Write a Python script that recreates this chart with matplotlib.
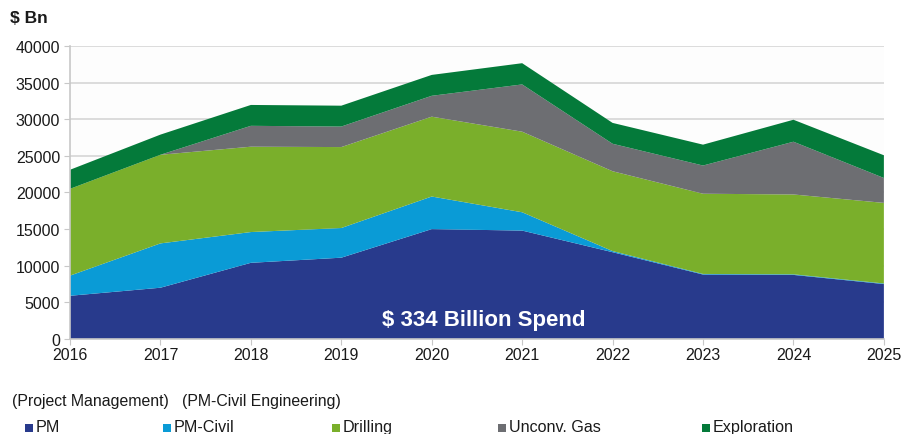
import matplotlib
matplotlib.use("Agg")
import matplotlib.pyplot as plt
from matplotlib.patches import Rectangle

plt.rcParams["font.family"] = ["Liberation Sans", "DejaVu Sans"]

years = [2016, 2017, 2018, 2019, 2020, 2021, 2022, 2023, 2024, 2025]
pm = [5900, 7000, 10400, 11100, 15000, 14800, 11850, 8800, 8750, 7500]
pm_civil = [2750, 6050, 4200, 4050, 4450, 2500, 150, 80, 80, 80]
drilling = [11850, 12100, 11650, 11050, 10900, 11000, 10900, 10950, 10900, 11000]
unconv_gas = [0, 0, 2850, 2800, 2850, 6450, 3750, 3850, 7200, 3400]
exploration = [2600, 2750, 2850, 2850, 2850, 2900, 2850, 2850, 3000, 3100]

series_labels = ["PM", "PM-Civil", "Drilling", "Unconv. Gas", "Exploration"]
colors = ["#283a8c", "#0a9bd6", "#7aaf2b", "#6d6e72", "#047a3a"]
y_ticks = [0, 5000, 10000, 15000, 20000, 25000, 30000, 35000, 40000]

fig = plt.figure(figsize=(9.01, 4.35), dpi=100)
ax = fig.add_axes([0.0777, 0.2184, 0.9033, 0.6736])
ax.set_facecolor("#fdfdfd")

ax.stackplot(years, pm, pm_civil, drilling, unconv_gas, exploration,
             colors=colors, linewidth=0, zorder=2)

ax.set_xlim(years[0], years[-1])
ax.set_ylim(0, 40000)
ax.set_xticks(years)
ax.set_xticklabels([str(y) for y in years])
ax.set_yticks(y_ticks)
ax.set_yticklabels([str(v) for v in y_ticks])
ax.yaxis.grid(True, color="#d6d6d6", linewidth=1.2, zorder=0)
ax.set_axisbelow(True)

for side in ("top", "right"):
    ax.spines[side].set_visible(False)
for side in ("left", "bottom"):
    ax.spines[side].set_color("#c8c8c8")
    ax.spines[side].set_linewidth(1.2)
    ax.spines[side].set_zorder(3)
ax.tick_params(axis="x", direction="out", length=4, color="#c8c8c8",
               labelsize=11.5, pad=2, labelcolor="#1a1a1a")
ax.tick_params(axis="y", direction="out", length=4, color="#c8c8c8",
               labelsize=11.5, pad=3, labelcolor="#1a1a1a")

ax.text(2020.57, 2700, "$ 334 Billion Spend", color="white", fontsize=16,
        fontweight="bold", ha="center", va="center", zorder=4)

fig.text(0.011, 0.957, "$ Bn", fontsize=12.5, fontweight="bold",
         ha="left", va="center", color="#1a1a1a")
fig.text(0.013, 1 - 406 / 435, "(Project Management)   (PM-Civil Engineering)",
         fontsize=11.4, ha="left", va="baseline", color="#1a1a1a")

legend_x = [25, 163, 332, 498, 702]
for x, lab, col in zip(legend_x, series_labels, colors):
    fig.patches.append(Rectangle((x / 901, 1 - 433 / 435), 8 / 901, 8 / 435,
                                 transform=fig.transFigure, facecolor=col,
                                 edgecolor="none"))
    fig.text((x + 11) / 901, 1 - 432 / 435, lab, fontsize=11.6,
             ha="left", va="baseline", color="#1a1a1a")

fig.savefig("out.png", dpi=100)
